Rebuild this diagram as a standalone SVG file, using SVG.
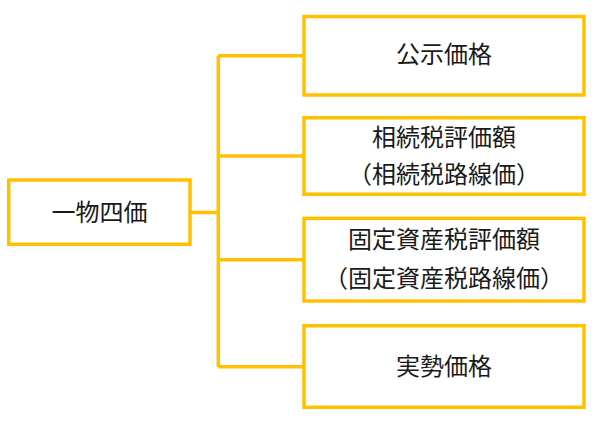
<svg xmlns="http://www.w3.org/2000/svg" width="599" height="423" viewBox="0 0 599 423">
<style>
.box{fill:#ffffff;stroke:#FFC000;stroke-width:3.5}
.conn{fill:none;stroke:#FFC000;stroke-width:3.5}
.t{font-family:"Noto Sans CJK JP","Noto Sans CJK SC",sans-serif;font-size:24px;fill:#1a1a1a;text-anchor:middle}
</style>
<rect width="599" height="423" fill="#ffffff"/>
<g id="connectors">
<path class="conn" d="M190 212.5H218.3M218.3 55.7V366.7M218.3 55.7H304M218.3 156H304M218.3 259.7H304M218.3 366.7H304"/>
</g>
<g id="root">
<rect class="box" x="8.7" y="180" width="181.3" height="64.3"/>
<text class="t" x="99.5" y="221">一物四価</text>
</g>
<g id="n1">
<rect class="box" x="304" y="16.5" width="280" height="78.5"/>
<text class="t" x="444" y="63">公示価格</text>
</g>
<g id="n2">
<rect class="box" x="304" y="117.7" width="280" height="76.6"/>
<text class="t" x="444" y="145.5">相続税評価額</text>
<text class="t" x="444" y="182.5">（相続税路線価）</text>
</g>
<g id="n3">
<rect class="box" x="304" y="218.4" width="280" height="82.6"/>
<text class="t" x="444" y="248">固定資産税評価額</text>
<text class="t" x="444" y="287">（固定資産税路線価）</text>
</g>
<g id="n4">
<rect class="box" x="304" y="325.7" width="280" height="81.6"/>
<text class="t" x="444" y="375">実勢価格</text>
</g>
</svg>
